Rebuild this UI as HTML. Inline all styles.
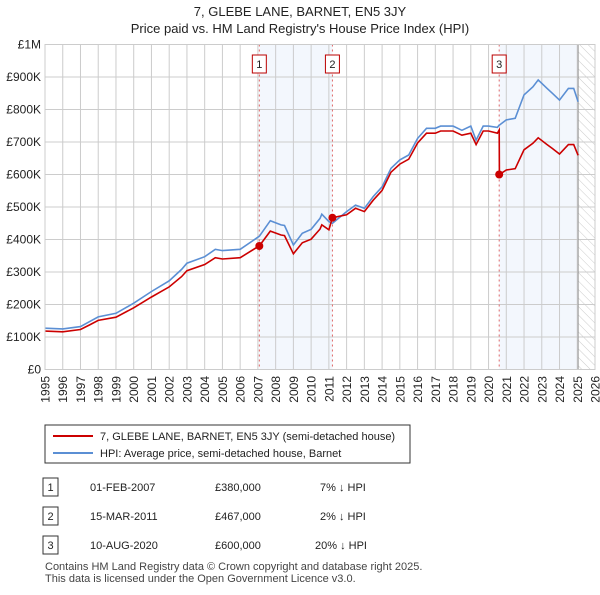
<!DOCTYPE html>
<html><head><meta charset="utf-8"><style>
body{margin:0;background:#fff;font-family:"Liberation Sans",sans-serif;}
svg text{font-family:"Liberation Sans",sans-serif;}
</style></head><body>
<svg width="600" height="590" viewBox="0 0 600 590">
<text x="300" y="16" text-anchor="middle" font-size="13" fill="#222">7, GLEBE LANE, BARNET, EN5 3JY</text>
<text x="300" y="33" text-anchor="middle" font-size="13" fill="#222">Price paid vs. HM Land Registry's House Price Index (HPI)</text>
<defs><pattern id="hatch" width="6" height="6" patternUnits="userSpaceOnUse" patternTransform="rotate(-45)"><line x1="0" y1="0" x2="0" y2="6" stroke="#ccc" stroke-width="1"/></pattern></defs>
<g id="plot"></g>
<rect x="45" y="425" width="365" height="38" fill="#fff" stroke="#333"/>
<line x1="53" y1="436" x2="93" y2="436" stroke="#cc0000" stroke-width="2"/>
<text x="100" y="440" font-size="11" fill="#222">7, GLEBE LANE, BARNET, EN5 3JY (semi-detached house)</text>
<line x1="53" y1="453" x2="93" y2="453" stroke="#5b8fd4" stroke-width="2"/>
<text x="100" y="457" font-size="11" fill="#222">HPI: Average price, semi-detached house, Barnet</text>
<g font-size="11" fill="#222">
<rect x="43" y="478" width="15" height="18" fill="#fff" stroke="#333"/><text x="50.5" y="491" text-anchor="middle">1</text>
<text x="90" y="491">01-FEB-2007</text><text x="215" y="491">£380,000</text><text x="320" y="491">7% ↓ HPI</text>
<rect x="43" y="507" width="15" height="18" fill="#fff" stroke="#333"/><text x="50.5" y="520" text-anchor="middle">2</text>
<text x="90" y="520">15-MAR-2011</text><text x="215" y="520">£467,000</text><text x="320" y="520">2% ↓ HPI</text>
<rect x="43" y="536" width="15" height="18" fill="#fff" stroke="#333"/><text x="50.5" y="549" text-anchor="middle">3</text>
<text x="90" y="549">10-AUG-2020</text><text x="215" y="549">£600,000</text><text x="315" y="549">20% ↓ HPI</text>
</g>
<text x="45" y="570" font-size="11" fill="#444">Contains HM Land Registry data © Crown copyright and database right 2025.</text>
<text x="45" y="582" font-size="11" fill="#444">This data is licensed under the Open Government Licence v3.0.</text>
</svg>
<script>
const hpiYears=[1995,1996,1997,1997.5,1998,1999,2000,2001,2002,2002.7,2003,2004,2004.6,2005,2006,2007,2007.08,2007.7,2008.3,2008.5,2009,2009.5,2010,2010.5,2010.6,2011,2011.2,2012,2012.5,2013,2013.5,2014,2014.5,2015,2015.5,2016,2016.5,2017,2017.3,2018,2018.5,2019,2019.3,2019.7,2020,2020.5,2020.6,2020.61,2021,2021.5,2022,2022.5,2022.8,2023.3,2023.6,2024,2024.5,2024.8,2025.05];
const hpiValues=[127,125,132,147,162,173,204,240,273,308,327,347,370,366,370,407,410,458,445,443,383,419,431,465,478,455,450,486,506,496,532,562,619,645,660,711,742,742,749,749,736,749,706,749,749,745,752,752,768,773,845,870,891,865,850,829,865,865,824];
const priceValues=[118,116,123,137,151,161,190,223,254,286,304,323,344,340,344,378,380,426,414,412,356,390,401,432,445,430,467,476,496,486,521,551,607,632,647,697,727,727,734,734,721,727,692,734,734,727,737,600,614,618,676,696,713,692,680,663,692,692,659];
const saleYears=[2007.08,2011.2,2020.6];
const saleValues=[380,467,600];
const saleLabels=["1","2","3"];
const yTicks=[0,100,200,300,400,500,600,700,800,900,1000];
const yTickLabels=["£0","£100K","£200K","£300K","£400K","£500K","£600K","£700K","£800K","£900K","£1M"];
const xTicks=[1995,1996,1997,1998,1999,2000,2001,2002,2003,2004,2005,2006,2007,2008,2009,2010,2011,2012,2013,2014,2015,2016,2017,2018,2019,2020,2021,2022,2023,2024,2025,2026];
const L=45,R=595,T=44.5,B=369.5,endData=2025.05;
const xs=y=>L+(y-1995)/(2026-1995)*(R-L);
const ys=v=>B-v/1000*(B-T);
const ns="http://www.w3.org/2000/svg";
const g=document.getElementById('plot');
function mk(t,a,p){const e=document.createElementNS(ns,t);for(const k in a)e.setAttribute(k,a[k]);(p||g).appendChild(e);return e;}
let e;
e=mk('rect',{x:xs(saleYears[0]),y:T,width:xs(saleYears[1])-xs(saleYears[0]),height:B-T,fill:'#eef3fc',opacity:0.7});


e=mk('rect',{x:xs(saleYears[2]),y:T,width:xs(endData)-xs(saleYears[2]),height:B-T,fill:'#eef3fc',opacity:0.7});


e=mk('rect',{x:xs(endData),y:T,width:R-xs(endData),height:B-T,fill:'url(#hatch)'});


yTicks.forEach((v,i)=>{
 e=mk('line',{x1:L,x2:R,y1:ys(v),y2:ys(v),stroke:'#ccc','stroke-width':1});
 
 
 e=mk('text',{x:L-4,y:ys(v)+4,'text-anchor':'end','font-size':12,fill:'#222'});e.textContent=yTickLabels[i];
 
 
});
xTicks.forEach(y=>{
 e=mk('line',{x1:xs(y),x2:xs(y),y1:T,y2:B,stroke:'#ccc','stroke-width':1});
 
 
 const tx=xs(y)+4.5, ty=376;
 e=mk('text',{x:tx,y:ty,'text-anchor':'end','font-size':12,fill:'#222',transform:'rotate(-90 '+tx+' '+ty+')'});e.textContent=y;
 
 
});
e=mk('line',{x1:xs(endData),x2:xs(endData),y1:T,y2:B,stroke:'#999','stroke-width':1});


saleYears.forEach((y,i)=>{
 e=mk('line',{x1:xs(y),x2:xs(y),y1:T,y2:B,stroke:'#e06666','stroke-width':1,'stroke-dasharray':'2,3'});
 
 
 e=mk('rect',{x:xs(y)-7,y:55,width:14,height:18,fill:'#fff',stroke:'#b00'});
 
 
 e=mk('text',{x:xs(y),y:68,'text-anchor':'middle','font-size':11,fill:'#222'});e.textContent=saleLabels[i];
 
 
});
const pts=(vals)=>hpiYears.map((y,i)=>xs(y).toFixed(1)+','+ys(vals[i]).toFixed(1)).join(' ');
e=mk('polyline',{points:pts(hpiValues),fill:'none',stroke:'#5b8fd4','stroke-width':1.6});


e=mk('polyline',{points:pts(priceValues),fill:'none',stroke:'#cc0000','stroke-width':1.6});


saleYears.forEach((y,i)=>{
 e=mk('circle',{cx:xs(y),cy:ys(saleValues[i]),r:4,fill:'#cc0000'});
 
 
});
e=mk('rect',{x:L,y:T,width:R-L,height:B-T,fill:'none',stroke:'#ccc'});


</script>
</body></html>
